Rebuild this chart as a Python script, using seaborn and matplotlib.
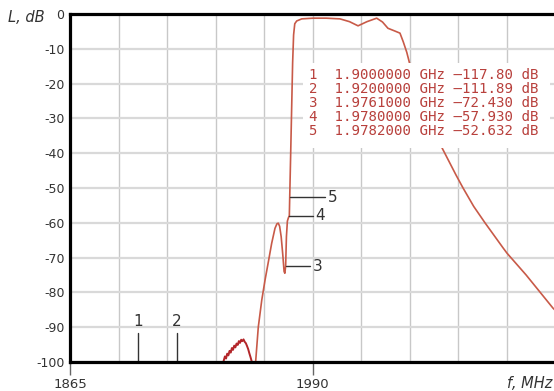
import matplotlib
matplotlib.use("Agg")
import matplotlib.pyplot as plt
from matplotlib.patches import Rectangle
from matplotlib.ticker import FixedLocator
import seaborn as sns
import pandas as pd

# ---------------- data ----------------
# main filter response (MHz, dB)
main_f = [1960.0, 1960.7, 1962.0, 1963.8, 1965.5, 1967.2, 1968.9, 1970.6, 1971.6,
          1972.3, 1973.0, 1973.8, 1974.6, 1975.3, 1975.7, 1976.1, 1976.5, 1977.0,
          1977.5, 1978.0, 1978.2, 1978.7, 1979.2, 1979.7, 1980.2, 1980.8, 1981.8,
          1984.4, 1990.2, 1997.0, 2004.1, 2009.0, 2013.4, 2018.0, 2023.0, 2026.0,
          2028.8, 2032.4, 2035.0, 2036.7, 2038.5, 2040.2, 2045.0, 2050.0, 2056.7,
          2063.9, 2067.5, 2073.0, 2078.8, 2088.1, 2090.1, 2100.0, 2113.8, 2116.0]
main_db = [-103.0, -99.5, -90.0, -82.2, -76.4, -71.2, -65.9, -61.6, -60.3,
           -60.1, -61.0, -64.0, -69.0, -74.0, -74.5, -72.43, -64.0, -59.5,
           -58.6, -57.93, -52.632, -40.0, -27.0, -14.0, -6.0, -2.8, -2.0,
           -1.4, -1.2, -1.2, -1.4, -2.2, -3.4, -2.2, -1.2, -2.3,
           -4.1, -4.9, -5.5, -8.0, -11.0, -14.7, -22.0, -30.0, -38.5,
           -46.3, -50.0, -55.3, -60.0, -67.2, -68.7, -75.0, -84.5, -85.7]

# noisy stop-band lobe (MHz, dB)
noise_f = [1943.5, 1944.2, 1944.8, 1945.4, 1946.0, 1946.6, 1947.2, 1947.8, 1948.4,
           1949.0, 1949.6, 1950.2, 1950.8, 1951.4, 1952.0, 1952.6, 1953.2, 1953.8,
           1954.4, 1955.0, 1955.6, 1956.2, 1956.8, 1957.4, 1958.0, 1958.6, 1959.2]
noise_db = [-101.0, -99.6, -98.4, -99.0, -97.6, -98.1, -96.8, -97.3, -96.0,
            -96.5, -95.3, -95.8, -94.7, -95.1, -94.0, -94.5, -93.6, -94.0,
            -93.5, -94.2, -94.6, -95.4, -96.3, -97.5, -98.6, -99.8, -101.5]

# markers
marker_ids = ["1", "2", "3", "4", "5"]
marker_ghz = [1.9000000, 1.9200000, 1.9761000, 1.9780000, 1.9782000]
marker_db = [-117.80, -111.89, -72.430, -57.930, -52.632]
marker_txt = ["1.9000000", "1.9200000", "1.9761000", "1.9780000", "1.9782000"]
marker_val_txt = ["–117.80", "–111.89", "–72.430", "–57.930", "–52.632"]

x_tick_vals = [1865, 1990]
x_grid_vals = [1865, 1890, 1915, 1940, 1965, 1990, 2015, 2040, 2065, 2090, 2115]
y_tick_vals = [0, -10, -20, -30, -40, -50, -60, -70, -80, -90, -100]

# ---------------- figure ----------------
sns.set_theme(style="white")
plt.rcParams["font.family"] = ["DejaVu Sans"]
plt.rcParams["axes.unicode_minus"] = False

W, H = 554, 391
fig = plt.figure(figsize=(W / 100, H / 100), dpi=100)
ax = fig.add_axes([70 / W, 29 / H, 484 / W, 348 / H])

xmin = 1865
xmax = xmin + 484 / 1.941
ax.set_xlim(xmin, xmax)
ax.set_ylim(-100, 0)

# grid
ax.xaxis.set_major_locator(FixedLocator(x_tick_vals))
ax.xaxis.set_minor_locator(FixedLocator(x_grid_vals))
ax.yaxis.set_major_locator(FixedLocator(y_tick_vals))
ax.grid(True, which="major", axis="y", color="#d9d9d9", lw=1.6, zorder=0)
ax.grid(True, which="both", axis="x", color="#c8c8c8", lw=1.0, zorder=0)
ax.set_axisbelow(True)

# curves
df_main = pd.DataFrame({"f": main_f, "L": main_db})
df_noise = pd.DataFrame({"f": noise_f, "L": noise_db})
sns.lineplot(data=df_noise, x="f", y="L", ax=ax, color="#b3262a", lw=1.4,
             estimator=None, sort=False, zorder=2)
sns.lineplot(data=df_main, x="f", y="L", ax=ax, color="#c85a48", lw=1.2,
             estimator=None, sort=False, zorder=2)

# marker indicators
ymin = -100
line_len = [0, 0, 12.5, 12.2, 18.2]
for i, (mid, g, v) in enumerate(zip(marker_ids, marker_ghz, marker_db)):
    f = g * 1000
    if v < ymin:
        ax.plot([f, f], [ymin, -91.6], color="#333333", lw=1.0, zorder=3, clip_on=False)
        ax.text(f, -88.4, mid, ha="center", va="center", fontsize=11,
                color="#333333", zorder=3)
    else:
        ax.plot([f, f + line_len[i]], [v, v], color="#333333", lw=1.0, zorder=3)
        ax.text(f + line_len[i] + 1.3, v, mid, ha="left", va="center", fontsize=11,
                color="#333333", zorder=3)

# marker table with white background
ax.add_patch(Rectangle((0.481, 0.615), 0.511, 0.244, transform=ax.transAxes,
                       facecolor="white", edgecolor="none", zorder=4))
row_y = [0.8247, 0.7845, 0.7443, 0.7040, 0.6638]
for mid, ft, vt, yy in zip(marker_ids, marker_txt, marker_val_txt, row_y):
    ax.text(0.4944, yy, f"{mid}  {ft} GHz {vt:>7} dB", transform=ax.transAxes,
            family="DejaVu Sans Mono", fontsize=10.2, color="#b8403c",
            ha="left", va="center", zorder=5)

# ticks
ax.set_xticklabels([str(v) for v in x_tick_vals])
ax.set_yticklabels([str(v) for v in y_tick_vals])
ax.tick_params(axis="y", length=0, pad=4, labelsize=9, labelcolor="#333333")
ax.tick_params(axis="x", which="major", length=9, width=1.0, color="#666666",
               pad=2.5, labelsize=9.5, labelcolor="#333333", bottom=True)
ax.tick_params(axis="x", which="minor", length=0)
ax.set_xlabel("")
ax.set_ylabel("")

# spines
for s in ["left", "bottom", "top"]:
    ax.spines[s].set_visible(True)
    ax.spines[s].set_color("black")
    ax.spines[s].set_linewidth(2.3)
    ax.spines[s].set_zorder(6)
ax.spines["right"].set_visible(False)

# axis titles
fig.text(8 / W, 1 - 17 / H, "L, dB", style="italic", fontsize=10.5,
         color="#333333", ha="left", va="center")
fig.text(507 / W, 1 - 383 / H, "f, MHz", style="italic", fontsize=10.5,
         color="#333333", ha="left", va="center")

fig.savefig("out.png", dpi=100)
